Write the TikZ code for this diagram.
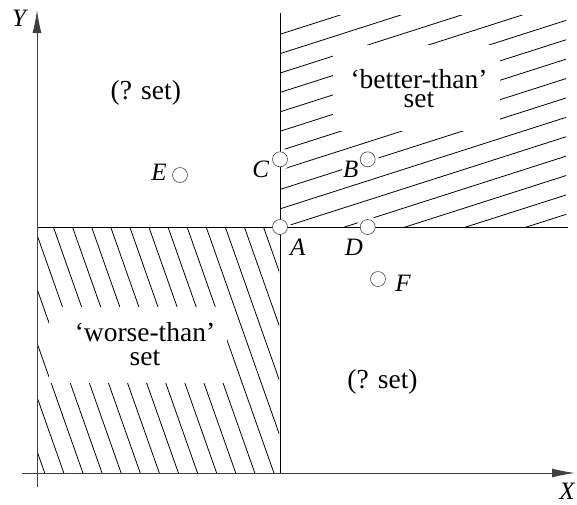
\documentclass[tikz,border=0pt]{standalone}
\usepackage{fontspec}
\setmainfont{Liberation Serif}
\usetikzlibrary{arrows.meta}
\begin{document}
\begin{tikzpicture}[x=1pt,y=-1pt,
  axis/.style={line width=1pt, draw=black!75},
  bound/.style={line width=0.9pt, draw=black},
  hatch/.style={line width=0.8pt, draw=black},
  pt/.style={circle, draw=black!70, line width=0.6pt, fill=white, minimum size=15pt, inner sep=0pt},
  lbl/.style={font=\fontsize{25}{25}\selectfont\itshape, inner sep=1pt},
  settext/.style={font=\fontsize{27.5}{19}\selectfont, align=center, inner sep=0pt},
]
\useasboundingbox (0,0) rectangle (577,504);

% point positions
\coordinate (pA) at (280,227);
\coordinate (pC) at (280,159.3);
\coordinate (pB) at (367.7,159.3);
\coordinate (pD) at (367.7,227);
\coordinate (pE) at (180,175);
\coordinate (pF) at (378,279);

% hatching of the better-than set
\begin{scope}
  \clip (280,15) rectangle (566,226);
  \foreach \k in {0,...,15}{
    \pgfmathsetmacro\c{33.3+19.4*\k}
    \draw[hatch] (270,{\c+4.16}) -- (580,{\c-95});
  }
\end{scope}
% hatching of the worse-than set
\begin{scope}
  \clip (37,228) rectangle (279,473);
  \foreach \k in {-5,...,12}{
    \pgfmathsetmacro\c{53.3+19.1*\k}
    \draw[hatch] ({\c-2.4},220) -- ({\c+89.4},480);
  }
\end{scope}

% white gaps in the hatching
\fill[white] (333,45) rectangle (500,131);
\fill[white] (49,307) rectangle (227,383);
\fill[white] (pB) circle (11pt);
\fill[white] (pC) circle (11pt);
\fill[white] (pA) circle (11pt);
\fill[white] (pD) circle (11pt);

% set texts
\node[settext] (better) at (419,88.4) {‘better-than’\\set};
\node[settext, font=\fontsize{27.5}{23.3}\selectfont] (worse) at (145,344) {‘worse-than’\\set\hspace{16pt}};
\node[settext] (q1) at (145.8,93.3) {(? set)};
\node[settext] (q2) at (382.5,381.7) {(? set)};

% boundary lines
\coordinate (hl) at (37,227);
\coordinate (hr) at (568,227);
\coordinate (vt) at (280,13);
\coordinate (vb) at (280,473);
\draw[bound] (hl) -- (hr);
\draw[bound] (vt) -- (vb);

% axes
\coordinate (xs) at (22,473);
\coordinate (xe) at (575,473);
\coordinate (ys) at (37,487);
\coordinate (ye) at (37,10);
\draw[axis, -{Latex[length=23pt,width=9pt]}] (xs) -- (xe);
\draw[axis, -{Latex[length=23pt,width=9pt]}] (ys) -- (ye);

% points
\node[pt] (A) at (pA) {};
\node[pt] (B) at (pB) {};
\node[pt] (C) at (pC) {};
\node[pt] (D) at (pD) {};
\node[pt] (E) at (pE) {};
\node[pt] (F) at (pF) {};

% labels
\node[lbl] (lA) at (297.7,247.3) {A};
\node[lbl, fill=white] (lB) at (350.7,169.3) {B};
\node[lbl] (lC) at (260.7,169.3) {C};
\node[lbl] (lD) at (354,247.3) {D};
\node[lbl] (lE) at (159,172) {E};
\node[lbl] (lF) at (403,283) {F};
\node[lbl] (lX) at (567,491) {X};
\node[lbl] (lY) at (19,18) {Y};
\end{tikzpicture}
\end{document}
